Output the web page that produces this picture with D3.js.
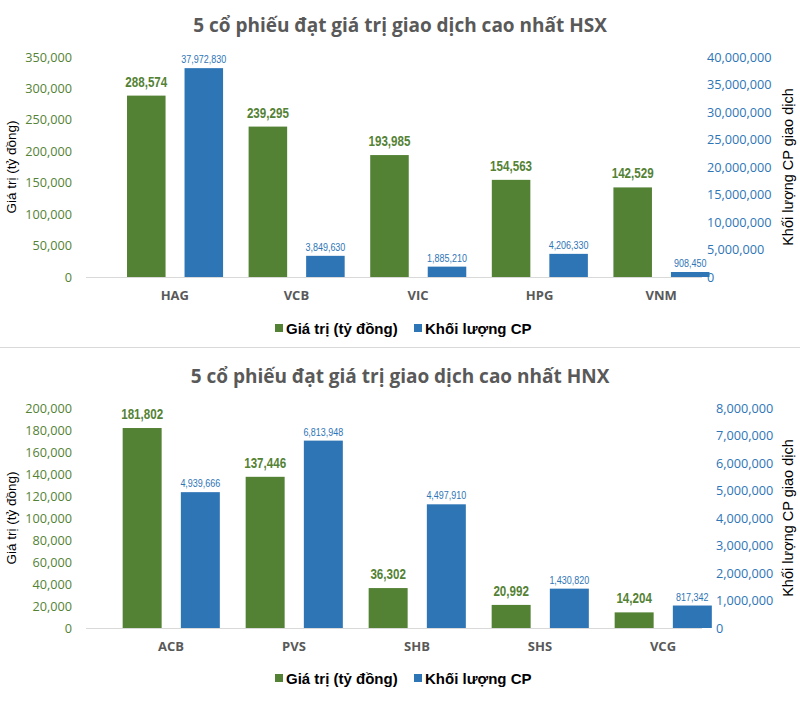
<!DOCTYPE html>
<html>
<head>
<meta charset="utf-8">
<script src="https://cdn.jsdelivr.net/npm/d3@7"></script>
<style>
  html, body { margin: 0; padding: 0; background: #ffffff; }
  svg { display: block; }
</style>
</head>
<body>
<svg id="chart" width="800" height="725"></svg>
<script>
// ---------- DATA ----------
const seriesNames = ["Giá trị (tỷ đồng)", "Khối lượng CP"];

const hsxTitle = "5 cổ phiếu đạt giá trị giao dịch cao nhất HSX";
const hsxCategories = ["HAG", "VCB", "VIC", "HPG", "VNM"];
const hsxValue = [288574, 239295, 193985, 154563, 142529];
const hsxVolume = [37972830, 3849630, 1885210, 4206330, 908450];
const hsxLeftTicks = [0, 50000, 100000, 150000, 200000, 250000, 300000, 350000];
const hsxRightTicks = [0, 5000000, 10000000, 15000000, 20000000, 25000000, 30000000, 35000000, 40000000];

const hnxTitle = "5 cổ phiếu đạt giá trị giao dịch cao nhất HNX";
const hnxCategories = ["ACB", "PVS", "SHB", "SHS", "VCG"];
const hnxValue = [181802, 137446, 36302, 20992, 14204];
const hnxVolume = [4939666, 6813948, 4497910, 1430820, 817342];
const hnxLeftTicks = [0, 20000, 40000, 60000, 80000, 100000, 120000, 140000, 160000, 180000, 200000];
const hnxRightTicks = [0, 1000000, 2000000, 3000000, 4000000, 5000000, 6000000, 7000000, 8000000];

const leftTitle = "Giá trị (tỷ đồng)";
const rightTitle = "Khối lượng CP giao dịch";

// ---------- STYLE ----------
const GREEN = "#548235";
const BLUE = "#2e75b6";
const GRAY_TEXT = "#595959";
const fmt = d3.format(",");

const svg = d3.select("#chart");

// separator between the two charts
svg.append("line")
  .attr("x1", 0).attr("x2", 800).attr("y1", 347.5).attr("y2", 347.5)
  .attr("stroke", "#d9d9d9").attr("stroke-width", 1);

function condense(sel, factor) {
  sel.each(function () {
    const w = this.getComputedTextLength();
    d3.select(this).attr("textLength", w * factor).attr("lengthAdjust", "spacingAndGlyphs");
  });
}

function drawChart(cfg) {
  const g = svg.append("g");
  const x = d3.scaleBand().domain(cfg.categories).range(cfg.xRange);
  const sub = d3.scaleBand().domain(["value", "volume"])
    .range([x.bandwidth() * 0.107, x.bandwidth() * 0.897]).paddingInner(0.33);
  const yL = d3.scaleLinear().domain([0, d3.max(cfg.leftTicks)]).range([cfg.y0, cfg.yTop]);
  const yR = d3.scaleLinear().domain([0, d3.max(cfg.rightTicks)]).range([cfg.y0, cfg.yTop]);

  // title
  g.append("text")
    .attr("x", 400).attr("y", cfg.titleY)
    .attr("text-anchor", "middle")
    .attr("font-family", "'Open Sans', sans-serif")
    .attr("font-weight", "bold")
    .attr("font-size", 19)
    .attr("fill", GRAY_TEXT)
    .text(cfg.title);

  // left axis
  const axL = d3.axisLeft(yL).tickValues(cfg.leftTicks).tickFormat(fmt).tickSize(0).tickPadding(0);
  const gL = g.append("g").attr("transform", `translate(${cfg.leftTickX},0)`).call(axL);
  gL.select(".domain").remove();
  gL.selectAll("text")
    .attr("font-family", "'Open Sans', sans-serif")
    .attr("font-size", 12.7)
    .attr("fill", GREEN);

  // right axis
  const axR = d3.axisRight(yR).tickValues(cfg.rightTicks).tickFormat(fmt).tickSize(0).tickPadding(0);
  const gR = g.append("g").attr("transform", `translate(${cfg.rightTickX},0)`).call(axR);
  gR.select(".domain").remove();
  gR.selectAll("text")
    .attr("font-family", "'Open Sans', sans-serif")
    .attr("font-size", 12.7)
    .attr("fill", BLUE);

  // baseline
  g.append("line")
    .attr("x1", 86).attr("x2", 702)
    .attr("y1", cfg.y0 + 0.5).attr("y2", cfg.y0 + 0.5)
    .attr("stroke", "#d9d9d9").attr("stroke-width", 1.2);

  // category labels
  const axX = d3.axisBottom(x).tickSize(0).tickPadding(0);
  const gX = g.append("g").attr("transform", `translate(0,${cfg.y0 + 14})`).call(axX);
  gX.select(".domain").remove();
  gX.selectAll("text")
    .attr("font-family", "'Open Sans', sans-serif")
    .attr("font-weight", "bold")
    .attr("font-size", 13)
    .attr("fill", GRAY_TEXT);

  // bars
  const cats = cfg.categories;
  g.selectAll(".bv").data(cats).enter().append("rect")
    .attr("x", (d) => x(d) + sub("value"))
    .attr("width", sub.bandwidth())
    .attr("y", (d, i) => yL(cfg.values[i]))
    .attr("height", (d, i) => cfg.y0 - yL(cfg.values[i]))
    .attr("fill", GREEN);
  g.selectAll(".bq").data(cats).enter().append("rect")
    .attr("x", (d) => x(d) + sub("volume"))
    .attr("width", sub.bandwidth())
    .attr("y", (d, i) => yR(cfg.volumes[i]))
    .attr("height", (d, i) => cfg.y0 - yR(cfg.volumes[i]))
    .attr("fill", BLUE);

  // data labels
  const lv = g.selectAll(".lv").data(cats).enter().append("text")
    .attr("x", (d) => x(d) + sub("value") + sub.bandwidth() / 2)
    .attr("y", (d, i) => yL(cfg.values[i]) - 9)
    .attr("text-anchor", "middle")
    .attr("font-family", "'Liberation Sans', Arial, sans-serif")
    .attr("font-weight", "bold")
    .attr("font-size", 14.5)
    .attr("fill", GREEN)
    .text((d, i) => fmt(cfg.values[i]));
  condense(lv, 0.8);
  const lq = g.selectAll(".lq").data(cats).enter().append("text")
    .attr("x", (d) => x(d) + sub("volume") + sub.bandwidth() / 2)
    .attr("y", (d, i) => yR(cfg.volumes[i]) - 5)
    .attr("text-anchor", "middle")
    .attr("font-family", "'Liberation Sans', Arial, sans-serif")
    .attr("font-size", 11.5)
    .attr("fill", BLUE)
    .text((d, i) => fmt(cfg.volumes[i]));
  condense(lq, 0.78);

  // axis titles
  const midY = (cfg.y0 + cfg.yTop) / 2;
  g.append("text")
    .attr("transform", `translate(16,${midY}) rotate(-90)`)
    .attr("text-anchor", "middle")
    .attr("font-family", "'Liberation Sans', Arial, sans-serif")
    .attr("font-size", 13.5)
    .attr("fill", "#000")
    .text(leftTitle);
  g.append("text")
    .attr("transform", `translate(793,${midY}) rotate(-90)`)
    .attr("text-anchor", "middle")
    .attr("font-family", "'Liberation Sans', Arial, sans-serif")
    .attr("font-size", 14.5)
    .attr("fill", "#000")
    .text(rightTitle);

  // legend
  const legY = cfg.legendY;
  const colors = [GREEN, BLUE];
  const legX = [275, 414];
  seriesNames.forEach((name, i) => {
    g.append("rect")
      .attr("x", legX[i]).attr("y", legY - 4)
      .attr("width", 8).attr("height", 8)
      .attr("fill", colors[i]);
    g.append("text")
      .attr("x", legX[i] + 11).attr("y", legY + 5.5)
      .attr("font-family", "'Liberation Sans', Arial, sans-serif")
      .attr("font-weight", "bold")
      .attr("font-size", 15)
      .attr("fill", "#000")
      .text(name);
  });
}

drawChart({
  title: hsxTitle, titleY: 32,
  categories: hsxCategories, values: hsxValue, volumes: hsxVolume,
  leftTicks: hsxLeftTicks, rightTicks: hsxRightTicks,
  xRange: [114, 722], y0: 277, yTop: 57,
  leftTickX: 72, rightTickX: 707, legendY: 328
});

drawChart({
  title: hnxTitle, titleY: 383,
  categories: hnxCategories, values: hnxValue, volumes: hnxVolume,
  leftTicks: hnxLeftTicks, rightTicks: hnxRightTicks,
  xRange: [109.5, 724.5], y0: 628, yTop: 408,
  leftTickX: 72, rightTickX: 716, legendY: 678
});
</script>
</body>
</html>
